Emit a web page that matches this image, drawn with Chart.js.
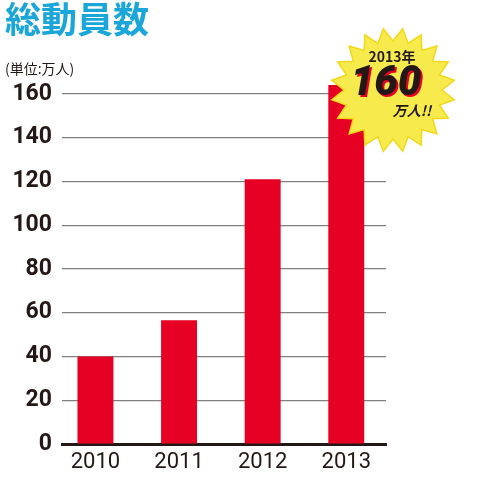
<!DOCTYPE html>
<html>
<head>
<meta charset="utf-8">
<script src="https://cdn.jsdelivr.net/npm/chart.js@4/dist/chart.umd.min.js"></script>
<style>
  html, body { margin: 0; padding: 0; background: #fff; }
  #wrap { width: 478px; height: 477px; position: relative; }
</style>
</head>
<body>
<div id="wrap"><canvas id="mobChart"></canvas></div>
<script>
let years = [2010, 2011, 2012, 2013];
let visitors = [40, 56.5, 121, 164];
let yTicks = [0, 20, 40, 60, 80, 100, 120, 140, 160];
let titleText = '総動員数';
let unitText = '(単位:万人)';
let badgeLines = ['2013年', '160', '万人!!'];

let ink = '#231815';
let red = '#e60023';

// yellow starburst callout next to the 2013 bar
let starBurst = {
  id: 'starBurst',
  afterDraw: (chart) => {
    let c = chart.ctx;
    let cx = 393, cy = 90, rOut = 62, rIn = 49, n = 20;
    c.save();
    c.beginPath();
    for (let i = 0; i < n * 2; i++) {
      let r = i % 2 === 0 ? rOut : rIn;
      let a = -Math.PI / 2 + Math.PI / n + i * Math.PI / n;
      let px = cx + r * Math.cos(a), py = cy + r * Math.sin(a);
      if (i === 0) c.moveTo(px, py); else c.lineTo(px, py);
    }
    c.closePath();
    c.fillStyle = '#f6ea4c';
    c.fill();
    c.lineWidth = 1.5;
    c.strokeStyle = '#f2d81a';
    c.stroke();

    c.textAlign = 'center';
    c.textBaseline = 'middle';
    c.fillStyle = ink;
    c.font = 'bold 14px "Noto Sans CJK JP", Roboto, sans-serif';
    c.fillText(badgeLines[0], 392, 57);

    c.font = 'italic 900 42px Roboto, sans-serif';
    c.fillStyle = red;
    c.fillText(badgeLines[1], 388, 86);
    c.fillStyle = ink;
    c.fillText(badgeLines[1], 386, 84);

    c.font = 'italic bold 14px "Noto Sans CJK JP", Roboto, sans-serif';
    c.fillText(badgeLines[2], 412, 111);
    c.restore();
  }
};

let ctx = document.getElementById('mobChart').getContext('2d');
// eslint-disable-next-line no-unused-vars
let mobChart = new Chart(ctx, {
  type: 'bar',
  data: {
    datasets: [{
      data: years.map((y, i) => ({ x: y, y: visitors[i] })),
      backgroundColor: red,
      borderWidth: 0,
      barPercentage: 0.43,
      categoryPercentage: 1,
      clip: false
    }]
  },
  options: {
    responsive: true,
    maintainAspectRatio: false,
    animation: false,
    layout: {
      padding: { left: 5, right: 92, top: 0, bottom: 0 }
    },
    plugins: {
      legend: { display: false },
      tooltip: { enabled: false },
      title: {
        display: true,
        text: titleText,
        align: 'start',
        color: '#1aa6d9',
        font: { family: '"Noto Sans CJK JP", sans-serif', size: 36, weight: 'bold', lineHeight: 1 },
        padding: { top: 1, bottom: 23 }
      },
      subtitle: {
        display: true,
        text: unitText,
        align: 'start',
        color: ink,
        font: { family: '"Noto Sans CJK JP", sans-serif', size: 14, lineHeight: 1.2 },
        padding: { top: 0, bottom: 17 }
      }
    },
    scales: {
      x: {
        type: 'linear',
        offset: false,
        min: 2009.6,
        max: 2013.475,
        afterBuildTicks: (scale) => {
          scale.ticks = years.map((y) => ({ value: y }));
        },
        afterFit: (scale) => { scale.height = 33; },
        grid: { display: false, drawTicks: false },
        border: { display: true, color: ink, width: 3 },
        ticks: {
          color: ink,
          padding: 5,
          font: { family: 'Roboto', size: 22 },
          callback: (value) => String(value)
        }
      },
      y: {
        min: 0,
        max: 160,
        afterBuildTicks: (scale) => {
          scale.ticks = yTicks.map((v) => ({ value: v }));
        },
        afterFit: (scale) => { scale.width = 57; },
        grid: { color: '#808080', lineWidth: 1.2, drawTicks: false },
        border: { display: false },
        ticks: {
          color: ink,
          padding: 10,
          font: { family: 'Roboto', size: 23, weight: 'bold' }
        }
      }
    }
  },
  plugins: [starBurst]
});
</script>
</body>
</html>
